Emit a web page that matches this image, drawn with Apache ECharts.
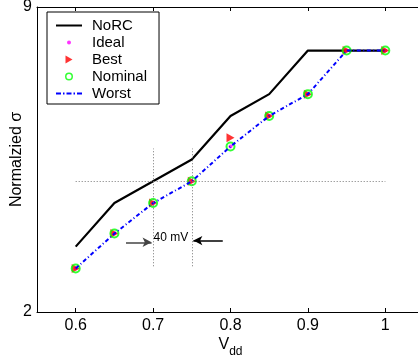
<!DOCTYPE html>
<html>
<head>
<meta charset="utf-8">
<script src="https://cdn.jsdelivr.net/npm/echarts@6/dist/echarts.min.js"></script>
<style>html,body{margin:0;padding:0;background:#fff;}#c{width:418px;height:358px;}</style>
</head>
<body>
<div id="c"></div>
<script>
// ---- data ----
const vdd     = [0.6, 0.65, 0.7, 0.75, 0.8, 0.85, 0.9, 0.95, 1.0];
const noRC    = [3.5, 4.5, 5.0, 5.5, 6.5, 7.0, 8.0, 8.0, 8.0];
const ideal   = [3.0, 3.8, 4.5, 5.0, 5.8, 6.5, 7.0, 8.0, 8.0];
const best    = [3.0, 3.8, 4.5, 5.0, 6.0, 6.5, 7.0, 8.0, 8.0];
const nominal = [3.0, 3.8, 4.5, 5.0, 5.8, 6.5, 7.0, 8.0, 8.0];
const worst   = [3.0, 3.8, 4.5, 5.0, 5.8, 6.5, 7.0, 8.0, 8.0];
const seriesNames = ['NoRC', 'Ideal', 'Best', 'Nominal', 'Worst'];
const xTicks = [0.6, 0.7, 0.8, 0.9, 1.0];
const yTicks = [2, 9];
const xRange = [0.55, 1.05];
const yRange = [2, 9];
// annotation values
const refLevel = 5.0;
const refSpan = [0.6, 1.0];
const guideX = [0.7, 0.75];
const guideSpan = [3.05, 5.75];
const arrowLeft = [[0.665, 3.6], [0.698, 3.6]];
const arrowRight = [[0.79, 3.64], [0.752, 3.64]];
const annText = '40 mV';
const annPos = [0.723, 3.71];

const zip = (xs, ys) => xs.map((x, i) => [x, ys[i]]);
const FONT = '"Liberation Sans", Arial, Helvetica, sans-serif';

const icons = {
  NoRC: 'path://M0,0M31,14M0,6h26v2h-26z',
  Ideal: 'path://M0,0M31,14M15,7a2,2 0 1,0 -4,0a2,2 0 1,0 4,0z',
  Best: 'path://M0,0M31,14M9.5,3L16.5,7L9.5,11z',
  Nominal: 'path://M0,0M31,14M17,7a4,4 0 1,0 -8,0a4,4 0 1,0 8,0zM15.5,7a2.5,2.5 0 1,1 -5,0a2.5,2.5 0 1,1 5,0z',
  Worst: 'path://M0,0M31,14M0,6h5v2h-5zM7,6h1.5v2h-1.5zM10.5,6h5v2h-5zM17.5,6h1.5v2h-1.5zM21,6h5v2h-5z'
};
const iconColors = {NoRC: '#000000', Ideal: '#ff00ff', Best: '#ff0000', Nominal: '#00ff00', Worst: '#0000ff'};

const chart = echarts.init(document.getElementById('c'), null, {renderer: 'canvas'});
chart.setOption({
  animation: false,
  backgroundColor: '#fff',
  textStyle: {fontFamily: FONT},
  grid: {left: 37, right: -6, top: 7, bottom: 46, containLabel: false, outerBoundsMode: 'none'},
  legend: {
    orient: 'vertical', left: 47, top: 12,
    itemWidth: 31, itemHeight: 14, itemGap: 2,
    padding: [6, 12, 3, 9],
    borderColor: '#000', borderWidth: 1, backgroundColor: '#fff',
    selectedMode: false,
    textStyle: {fontSize: 15, color: '#000', fontFamily: FONT, lineHeight: 14},
    data: seriesNames.map(n => ({name: n, icon: icons[n], itemStyle: {color: iconColors[n], borderWidth: 0}}))
  },
  xAxis: [{
    type: 'value', position: 'bottom', min: xRange[0], max: xRange[1],
    name: '{v|V}{s|dd}', nameLocation: 'middle', nameGap: 25, nameMoveOverlap: false,
    nameTextStyle: {color: '#000', rich: {
      v: {fontSize: 16, fontFamily: FONT, color: '#000', verticalAlign: 'top', lineHeight: 18},
      s: {fontSize: 12, fontFamily: FONT, color: '#000', verticalAlign: 'top', lineHeight: 12, padding: [9, 0, 0, 0]}
    }},
    axisLine: {show: true, lineStyle: {color: '#000', width: 1}},
    axisTick: {show: true, inside: true, length: 4, customValues: xTicks, lineStyle: {color: '#000'}},
    axisLabel: {show: true, customValues: xTicks, fontSize: 16, color: '#000', margin: 6, fontFamily: FONT,
      formatter: v => String(+(+v).toFixed(2))},
    splitLine: {show: false}
  }, {
    type: 'value', position: 'top', min: xRange[0], max: xRange[1],
    axisLine: {show: true, onZero: false, lineStyle: {color: '#000', width: 1}},
    axisTick: {show: true, inside: true, length: 4, customValues: xTicks, lineStyle: {color: '#000'}},
    axisLabel: {show: false},
    splitLine: {show: false}
  }],
  yAxis: {
    type: 'value', min: yRange[0], max: yRange[1],
    name: 'Normalzied σ', nameLocation: 'middle', nameGap: 12, nameMoveOverlap: false,
    nameTextStyle: {fontSize: 16, color: '#000', fontFamily: FONT},
    axisLine: {show: true, lineStyle: {color: '#000', width: 1}},
    axisTick: {show: false},
    axisLabel: {show: true, customValues: yTicks, fontSize: 16, color: '#000', margin: 5, fontFamily: FONT},
    splitLine: {show: false}
  },
  series: [{
    name: 'NoRC', type: 'line', data: zip(vdd, noRC), symbol: 'none',
    lineStyle: {color: '#000', width: 2.2}, itemStyle: {color: '#000'}, z: 2,
    markLine: {
      silent: true, symbol: 'none', label: {show: false},
      lineStyle: {color: '#777', width: 1, type: [1, 2]},
      data: [
        [{coord: [refSpan[0], refLevel]}, {coord: [refSpan[1], refLevel]}],
        [{coord: [guideX[0], guideSpan[0]]}, {coord: [guideX[0], guideSpan[1]]}],
        [{coord: [guideX[1], guideSpan[0]]}, {coord: [guideX[1], guideSpan[1]]}]
      ]
    }
  }, {
    name: 'Ideal', type: 'scatter', data: zip(vdd, ideal), symbol: 'circle', symbolSize: 4,
    itemStyle: {color: '#ff00ff'}, z: 3,
    markLine: {
      silent: true, symbol: ['none', 'arrow'], symbolSize: [7, 9], label: {show: false},
      lineStyle: {color: '#000', width: 1.5, type: 'solid'},
      data: [
        [{coord: arrowLeft[0], lineStyle: {color: '#444'}}, {coord: arrowLeft[1]}],
        [{coord: arrowRight[0]}, {coord: arrowRight[1]}]
      ]
    },
    markPoint: {
      silent: true,
      data: [{coord: annPos, symbol: 'circle', symbolSize: 0,
        label: {show: true, position: 'inside', formatter: annText, color: '#000', fontSize: 12, fontFamily: FONT}}]
    }
  }, {
    name: 'Best', type: 'scatter', data: zip(vdd, best), symbol: 'path://M0,0L10,5L0,10Z', symbolSize: [8, 9],
    itemStyle: {color: '#ff0000'}, z: 3
  }, {
    name: 'Nominal', type: 'scatter', data: zip(vdd, nominal), symbol: 'circle', symbolSize: 8,
    itemStyle: {color: 'rgba(0,0,0,0)', borderColor: '#00ff00', borderWidth: 2}, z: 3
  }, {
    name: 'Worst', type: 'line', data: zip(vdd, worst), symbol: 'none',
    lineStyle: {color: '#0000ff', width: 2, type: [4, 2.5, 1, 2.5]}, itemStyle: {color: '#0000ff'}, z: 4
  }]
});
</script>
</body>
</html>
